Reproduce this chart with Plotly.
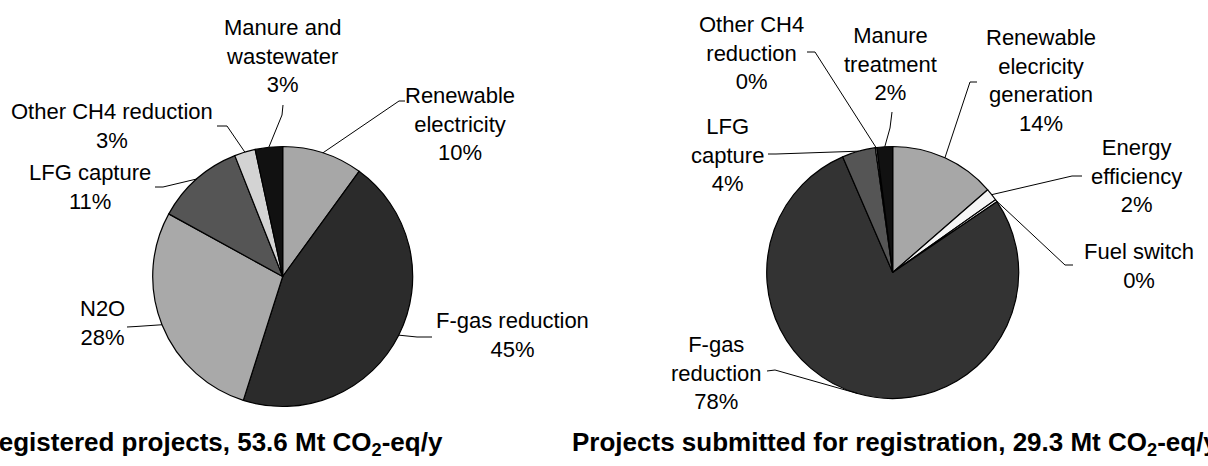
import math
import plotly.graph_objects as go

# ---------------- data ----------------
left_categories = ["Renewable electricity", "F-gas reduction", "N2O", "LFG capture",
                   "Other CH4 reduction", "Manure and wastewater"]
left_values = [10.0, 44.9, 28.1, 11.0, 2.6, 3.4]

right_categories = ["Renewable elecricity generation", "Energy efficiency", "Fuel switch",
                    "F-gas reduction", "LFG capture", "Other CH4 reduction", "Manure treatment"]
right_values = [13.6, 1.6, 0.3, 78.0, 4.3, 0.2, 2.0]

left_title = "Registered projects, 53.6 Mt CO<sub>2</sub>-eq/y"
right_title = "Projects submitted for registration, 29.3 Mt CO<sub>2</sub>-eq/y"

# ---------------- styles / layout ----------------
W, H = 1208, 466
FONT = "Liberation Sans, Arial, sans-serif"

left_colors = ["#A7A7A7", "#2B2B2B", "#A9A9A9", "#555555", "#D3D3D3", "#111111"]
right_colors = ["#A7A7A7", "#F6F6F6", "#FFFFFF", "#333333", "#555555", "#D0D0D0", "#111111"]

left_label_text = ["Renewable<br>electricity", "F-gas reduction", "N2O", "LFG capture",
                   "Other CH4 reduction", "Manure and<br>wastewater"]
right_label_text = ["Renewable<br>elecricity<br>generation", "Energy<br>efficiency", "Fuel switch",
                    "F-gas<br>reduction", "LFG<br>capture", "Other CH4<br>reduction", "Manure<br>treatment"]

LEFT_PIE = dict(cx=282.7, cy=276.5, r=130)
RIGHT_PIE = dict(cx=892.7, cy=272.5, r=126)

# label block centre (px) and leader line (elbow, end) in px
left_label_pos = [
    dict(c=(460, 124), elbow=(399, 101), end=(405, 101)),
    dict(c=(512, 335), elbow=(417, 337), end=(432, 337)),
    dict(c=(102, 323), elbow=(136, 326.5), end=(127, 327)),
    dict(c=(90, 187), elbow=(163, 187), end=(155, 187)),
    dict(c=(112, 126), elbow=(227, 126), end=(217, 126)),
    dict(c=(282.5, 56), elbow=(282, 115), end=(283, 105)),
]
right_label_pos = [
    dict(c=(1041, 81), elbow=(970, 82), end=(977, 82)),
    dict(c=(1136, 176), elbow=(1072, 176), end=(1082, 176)),
    dict(c=(1139, 266), elbow=(1065, 265), end=(1073, 265)),
    dict(c=(716, 373), elbow=(775, 370), end=(767, 371)),
    dict(c=(727, 155), elbow=(776, 154), end=(768, 154)),
    dict(c=(751, 53), elbow=(815, 52), end=(807, 52)),
    dict(c=(890, 64), elbow=(890, 128), end=(892, 112)),
]


def px(x):
    return x / W


def py(y):
    return 1 - y / H


def domain(p):
    return dict(x=[px(p["cx"] - p["r"]), px(p["cx"] + p["r"])],
                y=[py(p["cy"] + p["r"]), py(p["cy"] - p["r"])])


fig = go.Figure()
for cats, vals, cols, geo in [(left_categories, left_values, left_colors, LEFT_PIE),
                              (right_categories, right_values, right_colors, RIGHT_PIE)]:
    fig.add_trace(go.Pie(
        labels=cats, values=vals, sort=False, direction="clockwise", rotation=0,
        marker=dict(colors=cols, line=dict(color="#000000", width=1.2)),
        textinfo="none", hoverinfo="label+percent", showlegend=False,
        domain=domain(geo),
    ))

shapes = []
annotations = []
for cats, vals, texts, pos, geo in [
        (left_categories, left_values, left_label_text, left_label_pos, LEFT_PIE),
        (right_categories, right_values, right_label_text, right_label_pos, RIGHT_PIE)]:
    total = sum(vals)
    cum = 0.0
    for v, t, p in zip(vals, texts, pos):
        frac_mid = (cum + v / 2) / total
        cum += v
        th = 2 * math.pi * frac_mid
        ax = geo["cx"] + geo["r"] * math.sin(th)
        ay = geo["cy"] - geo["r"] * math.cos(th)
        pts = [(ax, ay), p["elbow"], p["end"]]
        for (x0, y0), (x1, y1) in zip(pts[:-1], pts[1:]):
            shapes.append(dict(type="line", xref="paper", yref="paper",
                               x0=px(x0), y0=py(y0), x1=px(x1), y1=py(y1),
                               line=dict(color="#000000", width=1)))
        pct = round(v / total * 100)
        annotations.append(dict(
            x=px(p["c"][0]), y=py(p["c"][1]), xref="paper", yref="paper",
            text=f"{t}<br>{pct}%", showarrow=False, align="center",
            xanchor="center", yanchor="middle",
            font=dict(family=FONT, size=22, color="#000000")))

annotations.append(dict(x=px(445), y=py(443), xref="paper", yref="paper",
                        text=f"<b>{left_title}</b>", showarrow=False,
                        xanchor="right", yanchor="middle",
                        font=dict(family=FONT, size=26, color="#000000")))
annotations.append(dict(x=px(570), y=py(443), xref="paper", yref="paper",
                        text=f"<b>{right_title}</b>", showarrow=False,
                        xanchor="left", yanchor="middle",
                        font=dict(family=FONT, size=26, color="#000000")))

fig.update_layout(
    width=W, height=H, margin=dict(l=0, r=0, t=0, b=0),
    paper_bgcolor="#FFFFFF", plot_bgcolor="#FFFFFF",
    shapes=shapes, annotations=annotations,
    font=dict(family=FONT, color="#000000"),
)

fig.write_html("out.html", config={"displayModeBar": False},
               post_script="document.body.style.margin='0';")
